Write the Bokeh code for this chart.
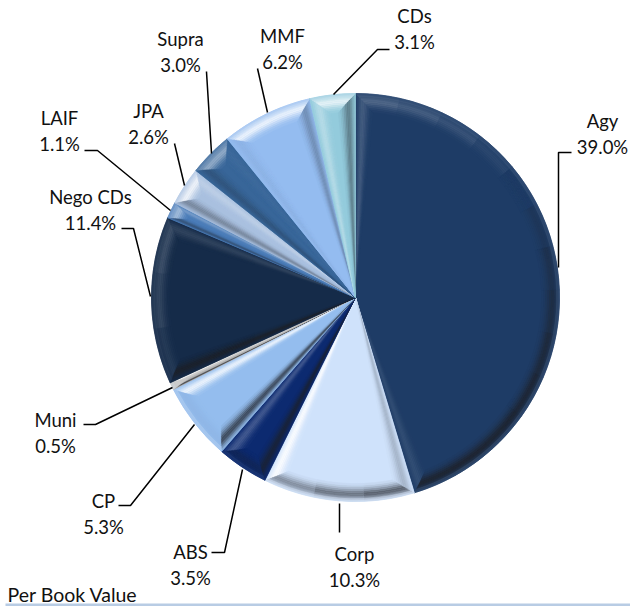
import math
from bokeh.plotting import figure
from bokeh.models import Range1d
from bokeh.core.properties import value
from bokeh.embed import file_html
from bokeh.resources import INLINE

names = ["Agy", "Corp", "ABS", "CP", "Muni", "Nego CDs", "LAIF", "JPA", "Supra", "MMF", "CDs"]
shares = [39.0, 10.3, 3.5, 5.3, 0.5, 11.4, 1.1, 2.6, 3.0, 6.2, 3.1]
colors = ["#1e3c66", "#cfe2fb", "#0c2a70", "#94bdee", "#c4c4c4", "#152b49",
          "#4a7cb8", "#a9c0df", "#386699", "#94bcf0", "#93cbdc"]
label_xy = [(602, 120), (354, 553), (190, 551), (103, 500), (55, 419), (90, 196),
            (59, 117), (148, 110), (180, 38), (282, 35), (414, 15)]
leader_paths = [
    [(571, 152), (558, 152), (558, 267)],
    [(339, 503), (339, 532)],
    [(211, 552), (224, 552), (242, 469)],
    [(118, 505), (130, 505), (194, 424)],
    [(83, 424), (95, 424), (172, 387)],
    [(121, 228), (133, 228), (150, 296)],
    [(84, 150), (97, 150), (170, 210)],
    [(174, 143), (184, 185)],
    [(206, 71), (211, 153)],
    [(257, 68), (267, 112)],
    [(389, 49), (377, 49), (333, 94)],
]

W, H = 630, 606
CX, CY, R = 355, 297, 204
BEVEL = 18
LIGHT = math.radians(125)
PROFILE = [0.15, 0.4, 0.7, 0.95, 1.0, 0.85, 0.6, 0.38, 0.2, 0.08]


def fy(y):
    return H - y


def hex_rgb(c):
    return tuple(int(c[i:i + 2], 16) for i in (1, 3, 5))


def mix(c, target, t):
    a = hex_rgb(c)
    return "#%02x%02x%02x" % tuple(round(x + (y - x) * t) for x, y in zip(a, target))


def lum_of(c):
    r, g, b = hex_rgb(c)
    return (0.3 * r + 0.59 * g + 0.11 * b) / 255


def shade(base, dot, k):
    lum = lum_of(base)
    if dot >= 0:
        return mix(base, (255, 255, 255), min(1, (0.06 + 1.05 * lum) * dot * k))
    return mix(base, (30, 32, 38), min(1, (0.85 - 0.15 * lum) * -dot * k))


p = figure(width=W, height=H, output_backend="svg", toolbar_location=None,
           x_range=Range1d(0, W), y_range=Range1d(0, H), min_border=0)
p.axis.visible = False
p.grid.visible = False
p.outline_line_color = None
p.background_fill_color = "#ffffff"

xs, ys, fills = [], [], []


def add(poly, col):
    xs.append([q[0] for q in poly])
    ys.append([fy(q[1]) for q in poly])
    fills.append(col)


def pt(theta, r):
    return (CX + r * math.sin(theta), CY - r * math.cos(theta))


total = sum(shares)
start = 0.0
n = len(PROFILE)
for share, base in zip(shares, colors):
    span = 2 * math.pi * share / total
    end = start + span
    d = min(BEVEL / R * 1.05, span * 0.42)
    steps = max(2, int(span / math.radians(2)))
    arc = [start + span * i / steps for i in range(steps + 1)]
    add([(CX, CY)] + [pt(a, R) for a in arc], base)
    for k in range(n):
        t0, t1 = k / n, (k + 1) / n
        dot_s = math.cos((math.pi / 2 - start + math.pi / 2) - LIGHT)
        add([(CX, CY), pt(start + d * t0, R - BEVEL * t0), pt(start + d * t1, R - BEVEL * t1)],
            shade(base, dot_s, PROFILE[k]))
        dot_e = math.cos((math.pi / 2 - end - math.pi / 2) - LIGHT)
        add([(CX, CY), pt(end - d * t0, R - BEVEL * t0), pt(end - d * t1, R - BEVEL * t1)],
            shade(base, dot_e, PROFILE[k]))
    rim_steps = max(1, int(span / math.radians(12)))
    for j in range(rim_steps):
        a0 = start + span * j / rim_steps
        a1 = start + span * (j + 1) / rim_steps
        dot_r = math.cos((math.pi / 2 - (a0 + a1) / 2) - LIGHT)
        for k in range(n):
            t0, t1 = k / n, (k + 1) / n

            def lim(a, t):
                lo, hi = start + d * t, end - d * t
                return max(lo, min(hi, a))

            outer = [lim(a0 + (a1 - a0) * i / 4, t0) for i in range(5)]
            inner = [lim(a1 - (a1 - a0) * i / 4, t1) for i in range(5)]
            poly = [pt(a, R - BEVEL * t0) for a in outer] + [pt(a, R - BEVEL * t1) for a in inner]
            col = shade(base, dot_r, PROFILE[k])
            if k < 2:
                col = mix(col, hex_rgb("#dfe9f7"), 0.35 * lum_of(base))
            add(poly, col)
    start = end

p.patches(xs, ys, fill_color=fills, line_color=fills, line_width=0.5)

p.multi_line([[q[0] for q in path] for path in leader_paths],
             [[fy(q[1]) for q in path] for path in leader_paths],
             line_color="#000000", line_width=1.5)

tx, ty, tt = [], [], []
for name, share, (lx, ly) in zip(names, shares, label_xy):
    tx += [lx, lx]
    ty += [fy(ly), fy(ly + 26)]
    tt += [name, f"{share:.1f}%"]
p.text(tx, ty, text=tt, text_font=value("Lato"), text_font_size="18.5px",
       text_align="center", text_baseline="middle", text_color="#111111")

p.text([7], [fy(594)], text=["Per Book Value"], text_font=value("Lato"), text_font_size="19.5px",
       text_align="left", text_baseline="middle", text_color="#111111")
p.quad(left=[5], right=[W], bottom=[fy(606)], top=[fy(603)], fill_color="#b8cce4", line_color=None)

open("out.html", "w").write(file_html(p, INLINE))
